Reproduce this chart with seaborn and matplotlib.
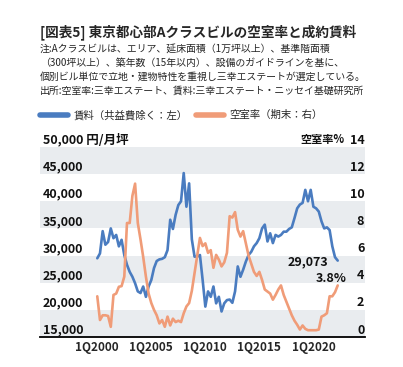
import matplotlib
matplotlib.use("Agg")
import matplotlib.pyplot as plt
import matplotlib.transforms as mtransforms
import seaborn as sns
import pandas as pd

# Quarterly data, 1Q2000 .. 2Q2022
rent = [29500, 30400, 34500, 32000, 32500, 35000, 33200, 33800, 31700, 32900,
        30100, 28300, 27000, 26100, 24900, 23400, 23100, 24300, 22400, 24300,
        25500, 27700, 29000, 29300, 29400, 29700, 31000, 36600, 34900, 37500,
        39300, 40000, 45200, 39000, 43300, 33000, 29800, 29800, 30100, 25500,
        20600, 23400, 22400, 24300, 21200, 22400, 19700, 21200, 21800, 21900,
        21300, 23400, 28000, 26100, 27400, 28900, 30100, 30700, 31700, 32300,
        33200, 35000, 35700, 32600, 34100, 32300, 33800, 33500, 33800, 34400,
        34400, 34900, 35200, 36900, 38700, 39400, 39700, 42100, 40000, 42100,
        39000, 38700, 38100, 36300, 35000, 35200, 34700, 31700, 29700, 29073]
vacancy = [3.0, 1.25, 1.6, 1.6, 1.55, 0.75, 3.1, 3.2, 3.7, 3.75,
           4.45, 8.4, 8.4, 10.4, 11.3, 8.4, 7.2, 5.9, 4.45, 3.2,
           2.5, 2.0, 1.6, 1.0, 1.25, 0.75, 1.5, 0.85, 1.35, 1.1,
           1.2, 1.1, 1.75, 2.25, 2.5, 3.4, 4.7, 6.0, 7.3, 6.7,
           6.9, 6.2, 6.4, 5.1, 6.05, 5.7, 5.2, 5.5, 6.2, 8.9,
           8.8, 9.2, 7.9, 7.4, 7.8, 6.9, 6.0, 5.4, 4.8, 4.5,
           4.8, 4.2, 3.5, 3.35, 3.2, 2.75, 3.1, 3.5, 3.8, 3.1,
           2.6, 2.1, 1.6, 1.2, 0.9, 0.55, 0.85, 0.6, 0.5, 0.5,
           0.5, 0.5, 0.55, 1.5, 1.6, 1.75, 3.0, 3.0, 3.3, 3.8]
tick_labels = ["1Q2000", "1Q2005", "1Q2010", "1Q2015", "1Q2020"]
rent_ticks = [15000, 20000, 25000, 30000, 35000, 40000, 45000, 50000]
vac_ticks = [0, 2, 4, 6, 8, 10, 12, 14]

title = "[図表5] 東京都心部Aクラスビルの空室率と成約賃料"
notes = [
    "注:Aクラスビルは、エリア、延床面積（1万坪以上）、基準階面積",
    "（300坪以上）、築年数（15年以内）、設備のガイドラインを基に、",
    "個別ビル単位で立地・建物特性を重視し三幸エステートが選定している。",
    "出所:空室率:三幸エステート、賃料:三幸エステート・ニッセイ基礎研究所",
]
rent_label = "賃料（共益費除く：左）"
vac_label = "空室率（期末：右）"

BLUE = "#4A7CC0"
ORANGE = "#F09C78"
BAND = "#E9ECEF"

quarters = [f"{i % 4 + 1}Q{2000 + i // 4}" for i in range(len(rent))]
df = pd.DataFrame({"Quarter": quarters, "t": range(len(rent)),
                   "Rent": rent, "Vacancy": vacancy})

sns.set_style("white")
plt.rcParams["font.family"] = ["Noto Sans CJK JP", "DejaVu Sans"]

W, H = 403, 367
fig = plt.figure(figsize=(W / 100, H / 100), dpi=100)
ax = fig.add_axes([40 / W, 1 - 337 / H, 325 / W, 190 / H])
ax2 = ax.twinx()

# alternating bands
for lo in rent_ticks[:-1:2]:
    ax.axhspan(lo, lo + 5000, color=BAND, lw=0, zorder=0)

sns.lineplot(data=df, x="t", y="Rent", ax=ax, color=BLUE, lw=1.9, label=rent_label, legend=False)
sns.lineplot(data=df, x="t", y="Vacancy", ax=ax2, color=ORANGE, lw=1.9, label=vac_label, legend=False)

ax.set_xlim(-21.2, 99.1)
ax.set_ylim(15000, 50000)
ax2.set_ylim(0, 14)
ax.set_xlabel("")
ax.set_ylabel("")
ax2.set_ylabel("")

xpos = [quarters.index(lab) for lab in tick_labels]
ax.set_xticks(xpos, tick_labels)
ax.tick_params(axis="x", length=0, pad=3, labelsize=8.5)
for lab in ax.get_xticklabels():
    lab.set_fontweight("bold")
ax.set_yticks([])
ax2.set_yticks([])

for s in ["top", "left", "right"]:
    ax.spines[s].set_visible(False)
for s in ax2.spines.values():
    s.set_visible(False)
ax.spines["bottom"].set_color("black")
ax.spines["bottom"].set_linewidth(1.3)

# y labels drawn inside the plot, just above their gridline
tl = mtransforms.offset_copy(mtransforms.blended_transform_factory(ax.transAxes, ax.transData),
                             fig=fig, x=0, y=7, units="dots")
for v in rent_ticks:
    s = f"{v:,}" + (" 円/月坪" if v == rent_ticks[-1] else "")
    ax.text(0.008, v, s, transform=tl, ha="left", va="center",
            fontsize=9, fontweight="bold", color="#111111")
tr = mtransforms.offset_copy(mtransforms.blended_transform_factory(ax2.transAxes, ax2.transData),
                             fig=fig, x=0, y=7, units="dots")
for v in vac_ticks:
    ax2.text(0.998, v, str(v), transform=tr, ha="right", va="center",
             fontsize=9, fontweight="bold", color="#111111")
tr2 = mtransforms.offset_copy(mtransforms.blended_transform_factory(ax2.transAxes, ax2.transData),
                              fig=fig, x=-20, y=7, units="dots")
ax2.text(1.0, vac_ticks[-1], "空室率%", transform=tr2, ha="right", va="center",
         fontsize=8, fontweight="bold", color="#111111")

# end-point labels
last = len(rent) - 1
ax.annotate(f"{rent[-1]:,}", xy=(last, rent[-1]), xytext=(-9, -1),
            textcoords="offset pixels", ha="right", va="center",
            fontsize=9, fontweight="bold", color="#111111")
ax2.annotate(f"{vacancy[-1]}%", xy=(last, vacancy[-1]), xytext=(9, 7),
             textcoords="offset pixels", ha="right", va="center",
             fontsize=9, fontweight="bold", color="#111111")

# header
fig.text(40 / W, 1 - 32 / H, title, fontsize=9.8, fontweight="bold", va="center", ha="left")
for i, line in enumerate(notes):
    fig.text(40 / W, 1 - (48.3 + 14.2 * i) / H, line, fontsize=7.15, va="center", ha="left")

leg = fig.legend(handles=[ax.get_lines()[0], ax2.get_lines()[0]],
                 labels=[rent_label, vac_label], ncol=2, frameon=False,
                 loc="center left", bbox_to_anchor=(40 / W, 1 - 115 / H),
                 borderpad=0, borderaxespad=0, handlelength=2.7,
                 handletextpad=0.5, columnspacing=0.8, fontsize=7.5)
for h in leg.legend_handles:
    h.set_linewidth(4)

fig.savefig("out.png", dpi=100)
